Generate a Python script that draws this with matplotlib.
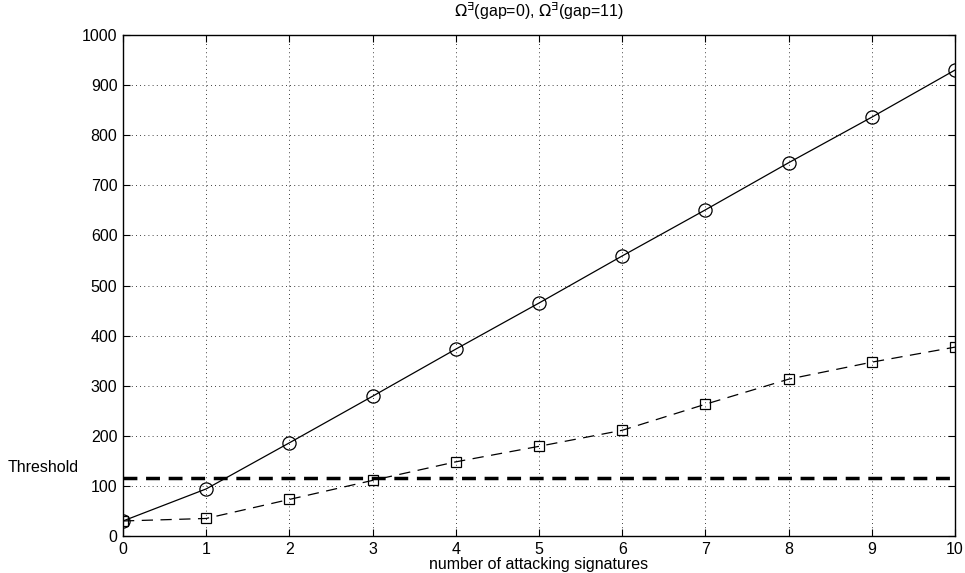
import matplotlib
matplotlib.use("Agg")
import matplotlib.pyplot as plt

plt.rcParams['font.family'] = ['Liberation Sans', 'DejaVu Sans']
plt.rcParams['mathtext.fontset'] = 'dejavusans'

x = [0, 1, 2, 3, 4, 5, 6, 7, 8, 9, 10]
gap0 = [30, 94, 186, 279, 373, 465, 559, 651, 745, 836, 930]
gap11 = [30, 35, 73, 111, 148, 179, 211, 263, 313, 347, 377]
threshold = 116
xticks = [0, 1, 2, 3, 4, 5, 6, 7, 8, 9, 10]
yticks = [0, 100, 200, 300, 400, 500, 600, 700, 800, 900, 1000]

fig = plt.figure(figsize=(9.65, 5.73), dpi=100)
ax = fig.add_axes([123/965, 1-536/573, (955-123)/965, (536-35)/573])

ax.plot(x, gap0, color='black', lw=0.9, marker='o', markersize=9.5,
        markerfacecolor='none', markeredgewidth=0.9)
ax.plot(x, gap11, color='black', lw=0.9, ls=(0, (9, 6)), marker='s', markersize=7,
        markerfacecolor='none', markeredgewidth=0.9)
ax.axhline(threshold, color='black', lw=2.5, ls=(0, (4, 2.5)))

ax.set_xlim(0, 10)
ax.set_ylim(0, 1000)
ax.set_xticks(xticks)
ax.set_yticks(yticks)
ax.tick_params(direction='in', top=True, right=True, labelsize=11.5, length=5, width=0.8, pad=4)
ax.grid(True, color='black', ls=(0, (1, 4)), lw=0.6)
for s in ax.spines.values():
    s.set_linewidth(1.0)

ax.set_title(r'$\Omega^{\exists}$(gap=0), $\Omega^{\exists}$(gap=11)', fontsize=11.5, pad=13)
ax.set_xlabel('number of attacking signatures', fontsize=11.5, labelpad=0)
fig.text(8/965, 1-468/573, 'Threshold', fontsize=11.5, va='center', ha='left')

fig.savefig('out.png', dpi=100)
